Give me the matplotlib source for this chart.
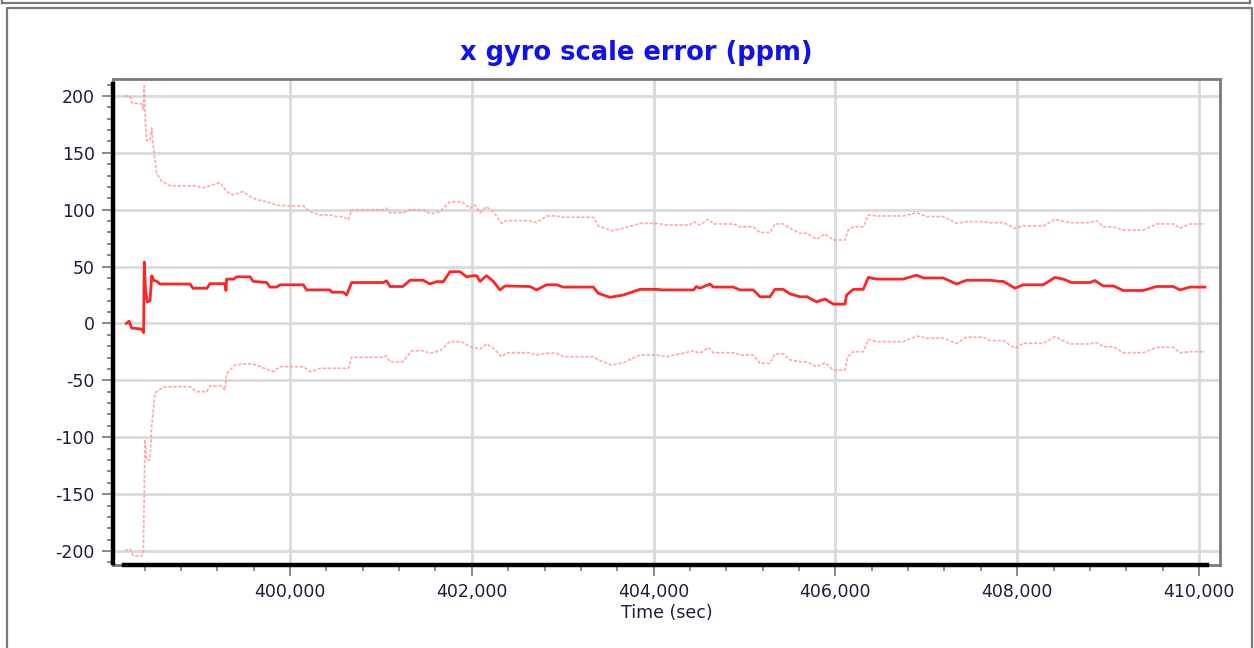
import numpy as np
import matplotlib
matplotlib.use("Agg")
import matplotlib.pyplot as plt
import matplotlib.ticker as ticker
from matplotlib.lines import Line2D

plt.rcParams["axes.unicode_minus"] = False

# ---------------------------------------------------------------------------
# Data: x gyro scale error estimate and its +/- bounds (ppm vs GPS seconds)
# ---------------------------------------------------------------------------
est_t = [398200, 398230, 398259, 398370, 398390, 398397, 398410, 398430, 398460,
         398479, 398500, 398534, 398570, 398900, 398933, 399087, 399120, 399285,
         399296, 399303, 399380, 399413, 399560, 399597, 399743, 399780, 399853,
         399890, 400147, 400183, 400440, 400458, 400587, 400623, 400678, 401027,
         401063, 401100, 401243, 401320, 401467, 401540, 401613, 401687, 401760,
         401870, 401943, 402013, 402053, 402090, 402163, 402237, 402310, 402365,
         402640, 402713, 402823, 402933, 403007, 403337, 403392, 403520, 403667,
         403850, 404033, 404103, 404440, 404470, 404510, 404620, 404657, 404877,
         404950, 405097, 405170, 405280, 405335, 405427, 405500, 405610, 405687,
         405793, 405885, 405977, 406105, 406123, 406197, 406307, 406362, 406453,
         406747, 406893, 406967, 407187, 407333, 407443, 407700, 407810, 407847,
         407975, 408067, 408287, 408415, 408507, 408598, 408800, 408855, 408947,
         409057, 409167, 409387, 409533, 409717, 409790, 409900, 410065]
est_ppm = [0, 2, -4, -5, -8, 54, 30, 19, 20,
           42, 38, 37, 34.7, 34.7, 31, 31, 35, 35,
           29, 39, 39, 41, 41, 37, 36, 32, 32,
           34, 34, 29.5, 29.5, 27.5, 27.5, 25, 36, 36,
           37.5, 32.5, 32.5, 38, 38, 34.7, 36.8, 36.8, 45.5,
           45.5, 41, 42, 42, 37, 42, 37, 29.5, 33,
           32.5, 29.5, 34, 34, 32, 32, 26.5, 23, 25,
           30, 30, 29.5, 29.5, 32.5, 31, 34.7, 32, 32,
           29.5, 29.5, 23.5, 23.5, 30, 30, 26, 23.5, 23.5,
           19, 21.5, 17, 17, 25, 30, 30, 40.5, 39,
           39, 42.5, 40, 40, 34.7, 38, 38, 37, 37,
           31, 34, 34, 40.5, 39, 36, 36, 37.7, 33,
           33, 29, 29, 32.5, 32.5, 29.5, 32, 32]

upper_t = [398185, 398240, 398258, 398368, 398387, 398397, 398410, 398423, 398460,
           398479, 398497, 398533, 398588, 398680, 398973, 399028, 399120, 399230,
           399303, 399377, 399487, 399560, 399633, 399743, 399853, 400000, 400147,
           400220, 400330, 400440, 400513, 400587, 400642, 400678, 401027, 401063,
           401100, 401243, 401320, 401467, 401540, 401650, 401760, 401890, 401980,
           402035, 402090, 402163, 402237, 402328, 402383, 402640, 402713, 402823,
           402933, 403007, 403337, 403392, 403538, 403667, 403850, 404033, 404143,
           404400, 404440, 404510, 404602, 404657, 404877, 404950, 405097, 405170,
           405280, 405335, 405427, 405500, 405610, 405687, 405793, 405885, 405977,
           406105, 406140, 406197, 406307, 406362, 406453, 406747, 406893, 407003,
           407187, 407333, 407443, 407627, 407700, 407847, 407975, 408067, 408287,
           408415, 408580, 408800, 408873, 408947, 409057, 409167, 409387, 409533,
           409717, 409790, 409900, 410065]
upper_ppm = [200, 200, 194, 193, 188, 209, 175, 161, 161,
             172, 155, 132, 125, 121, 121, 119, 121, 124,
             116, 113, 116, 111.5, 109, 107, 104, 103.3, 103.3,
             98.3, 95.4, 95.4, 94, 94, 91, 100, 100, 101.3,
             97.4, 97.4, 100, 100, 96.3, 98.3, 107, 107, 101.3,
             104.2, 97.4, 102.7, 98.3, 88, 90.4, 90.4, 88.6, 94.5,
             94.5, 93.4, 93.4, 85.7, 81.6, 83.7, 88, 88, 86.6,
             86.6, 89.5, 86.6, 91.6, 87.5, 87.5, 85, 85, 80,
             80, 87.5, 87.5, 83.7, 79.3, 79.3, 74, 78.7, 73.4,
             73.4, 82, 85, 85, 95.4, 94.5, 94.5, 97.4, 94,
             94, 88, 89.5, 89.5, 88.6, 88.6, 83.7, 85.7, 85.7,
             91.6, 88.6, 88.6, 90.4, 85, 85, 82, 82, 87.5,
             87.5, 83.7, 87.5, 87.5]

lower_t = [398185, 398240, 398277, 398368, 398387, 398405, 398423, 398460, 398478,
           398515, 398607, 398717, 398900, 398973, 399083, 399120, 399248, 399285,
           399303, 399395, 399487, 399597, 399670, 399817, 399890, 400147, 400220,
           400330, 400642, 400678, 401027, 401063, 401100, 401243, 401338, 401467,
           401540, 401650, 401760, 401890, 401980, 402090, 402163, 402237, 402328,
           402383, 402640, 402713, 402823, 402933, 403007, 403337, 403392, 403538,
           403667, 403850, 404033, 404143, 404327, 404437, 404510, 404602, 404657,
           404877, 404950, 405097, 405170, 405280, 405335, 405427, 405500, 405610,
           405687, 405793, 405885, 405977, 406105, 406140, 406197, 406307, 406362,
           406453, 406747, 406893, 407003, 407187, 407333, 407443, 407627, 407700,
           407847, 407975, 408067, 408287, 408415, 408580, 408800, 408873, 408947,
           409057, 409167, 409387, 409533, 409717, 409790, 409900, 410065]
lower_ppm = [-199.7, -198, -204.4, -204.4, -202, -102, -120, -120, -91,
             -61, -56, -55.6, -55.6, -60, -60, -55, -55, -58.5,
             -44, -36.5, -35.6, -35.6, -38, -42.4, -38, -38, -42.4,
             -39.4, -39.4, -29.7, -29.7, -28.6, -33.6, -33.6, -24, -24,
             -26.2, -24, -16, -16, -20.4, -22.5, -18, -21.8, -29.2,
             -25.7, -25.7, -27.7, -26.2, -26.2, -29.2, -29.2, -32, -36.5,
             -34.5, -27.7, -27.7, -29.2, -26.2, -24, -26.2, -21, -25.7,
             -25.7, -27.7, -27.7, -35, -35, -26.8, -26.8, -32, -33.6,
             -33.6, -38, -34.5, -41, -41, -29, -24.8, -24.8, -14,
             -16, -16, -11, -13, -13, -17.4, -12, -12, -15,
             -15, -21.8, -17.4, -17.4, -11.6, -18, -18, -16.7, -20.4,
             -20.4, -25.7, -25.7, -21, -21, -25.7, -24.8, -24.8]

# ---------------------------------------------------------------------------
# Figure
# ---------------------------------------------------------------------------
W, H = 1254, 648
fig = plt.figure(figsize=(W / 100, H / 100), dpi=100)
fig.patch.set_facecolor("white")

# panel frames (bottom edge of the panel above, and this panel's box)
frame_kw = dict(color="#7a7a7a", linewidth=1.6, transform=fig.transFigure)
def fx(px):
    return px / W
def fy(py):
    return 1 - py / H
fig.add_artist(Line2D([fx(2), fx(1250)], [fy(3), fy(3)], **frame_kw))
fig.add_artist(Line2D([fx(2), fx(2)], [fy(0), fy(3)], **frame_kw))
fig.add_artist(Line2D([fx(1250), fx(1250)], [fy(0), fy(3)], **frame_kw))
fig.add_artist(Line2D([fx(7), fx(7), fx(1252), fx(1252)],
                      [fy(650), fy(7.5), fy(7.5), fy(650)], **frame_kw))

ax = fig.add_axes([fx(113), fy(565), fx(1220) - fx(113), fy(79) - fy(565)])

ax.plot(upper_t, upper_ppm, color="#ff9a9a", linewidth=1.2,
        linestyle=(0, (2, 1)), alpha=0.85, zorder=3)
ax.plot(lower_t, lower_ppm, color="#ff9a9a", linewidth=1.2,
        linestyle=(0, (2, 1)), alpha=0.85, zorder=3)
ax.plot(est_t, est_ppm, color="#ff2424", linewidth=2.0, zorder=4)

ax.set_xlim(398053, 410231)
ax.set_ylim(-212.3, 214.9)

ax.xaxis.set_major_locator(ticker.MultipleLocator(2000))
ax.xaxis.set_minor_locator(ticker.MultipleLocator(400))
ax.yaxis.set_major_locator(ticker.MultipleLocator(50))
ax.yaxis.set_minor_locator(ticker.MultipleLocator(10))
ax.xaxis.set_major_formatter(ticker.FuncFormatter(lambda v, p: f"{v:,.0f}"))

ax.grid(which="major", color="#dadada", linewidth=2.0, zorder=1)
ax.set_axisbelow(True)

label_color = "#1e1e3c"
ax.tick_params(which="major", direction="out", length=8, width=1.4,
               color="#8a8a8a", labelsize=12.5, labelcolor=label_color, pad=5)
ax.tick_params(which="minor", direction="out", length=4, width=1.4,
               color="#8a8a8a")

# gray box with the heavier black left/bottom axis lines on top
for side in ["top", "right", "left", "bottom"]:
    ax.spines[side].set_color("#7a7a7a")
    ax.spines[side].set_linewidth(2.0)
ax.add_line(Line2D([0, 0], [0.004, 0.99], color="black", linewidth=3.2,
                   transform=ax.transAxes, clip_on=False, zorder=6))
ax.add_line(Line2D([0.01, 0.988], [0, 0], color="black", linewidth=3.2,
                   transform=ax.transAxes, clip_on=False, zorder=6))

ax.set_xlabel("Time (sec)", fontsize=12.5, color=label_color, labelpad=2)

fig.text(fx(636), fy(53), "x gyro scale error (ppm)", ha="center", va="center",
         fontsize=18.5, fontweight="bold", color="#1010f0")

plt.savefig("out.png", dpi=100)
plt.close()
